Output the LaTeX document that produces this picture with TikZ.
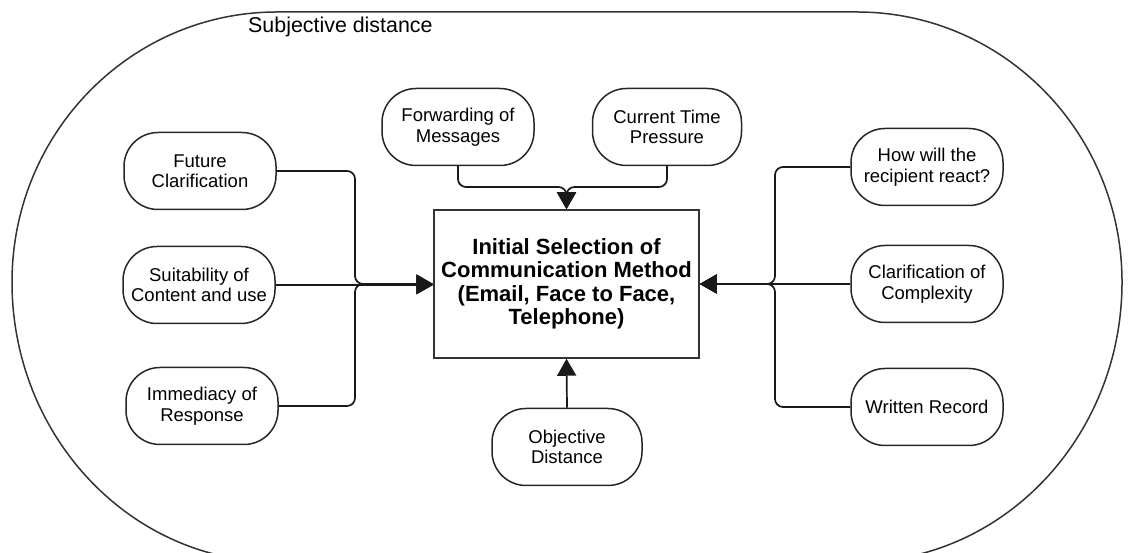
\documentclass[tikz,border=0pt]{standalone}
\usepackage{fontspec}
\setmainfont{Liberation Sans}
\usetikzlibrary{arrows.meta}
\tikzset{
  x=1pt, y=1pt,
  pill/.style={draw=black!85, line width=1.5pt, rectangle, rounded corners=34pt,
    minimum width=152pt, minimum height=77pt, align=center, inner sep=2pt,
    font=\fontsize{18.5}{20.5}\selectfont},
  mainbox/.style={draw=black!80, line width=1.5pt, rectangle,
    minimum width=265pt, minimum height=148pt, align=center, inner sep=2pt,
    font=\fontsize{22}{23.5}\selectfont\bfseries},
  conn/.style={line width=1.7pt, draw=black!90, rounded corners=8pt},
  arr/.style={conn, -{Triangle[length=17pt,width=19pt]}},
}
\begin{document}
\begin{tikzpicture}
\useasboundingbox (0,0) rectangle (1131,553);
% outer subjective distance region
\draw[line width=1.5pt, draw=black!80] (277,541) -- (857,541)
  arc[start angle=90, end angle=0, x radius=265pt, y radius=270pt]
  arc[start angle=0, end angle=-90, x radius=265pt, y radius=280pt]
  -- (277,-9)
  arc[start angle=270, end angle=180, x radius=265pt, y radius=280pt]
  arc[start angle=180, end angle=90, x radius=265pt, y radius=270pt] -- cycle;
\node[anchor=base west, inner sep=0pt, font=\fontsize{21.4}{24}\selectfont] (subj) at (248,520) {Subjective distance};

\node[mainbox] (box) at (566.5,269) {Initial Selection of\\Communication Method\\(Email, Face to Face,\\Telephone)};

\node[pill] (fut) at (200,382) {Future\\Clarification};
\node[pill] (suit) at (199,268) {Suitability of\\Content and use};
\node[pill] (imm) at (202,147) {Immediacy of\\Response};

\node[pill] (fwd) at (458,426) {Forwarding of\\Messages};
\node[pill, minimum width=149pt] (cur) at (667,426) {Current Time\\Pressure};

\node[pill] (how) at (927,386) {How will the\\recipient react?};
\node[pill] (clar) at (927,269) {Clarification of\\Complexity};
\node[pill] (wr) at (927,146) {Written Record};

\node[pill, minimum width=150pt] (obj) at (567,106) {Objective\\Distance};

% junctions
\coordinate (lj) at (355,269);
\coordinate (rj) at (775,269);
\coordinate (tj) at (566.5,366);

\draw[arr] (fut.east) -| (lj) -- (box.west);
\draw[arr] (imm.east) -| (lj) -- (box.west);
\draw[arr] (suit.east) -- (suit.east -| box.west);

\draw[arr] (how.west) -| (rj) -- (box.east);
\draw[arr] (wr.west) -| (rj) -- (box.east);
\draw[arr] (clar.west) -- (box.east);

\draw[arr] (fwd.south) |- (tj) -- (box.north);
\draw[arr] (cur.south) |- (tj) -- (box.north);

\draw[arr] (obj.north) -- (box.south);
\end{tikzpicture}
\end{document}
